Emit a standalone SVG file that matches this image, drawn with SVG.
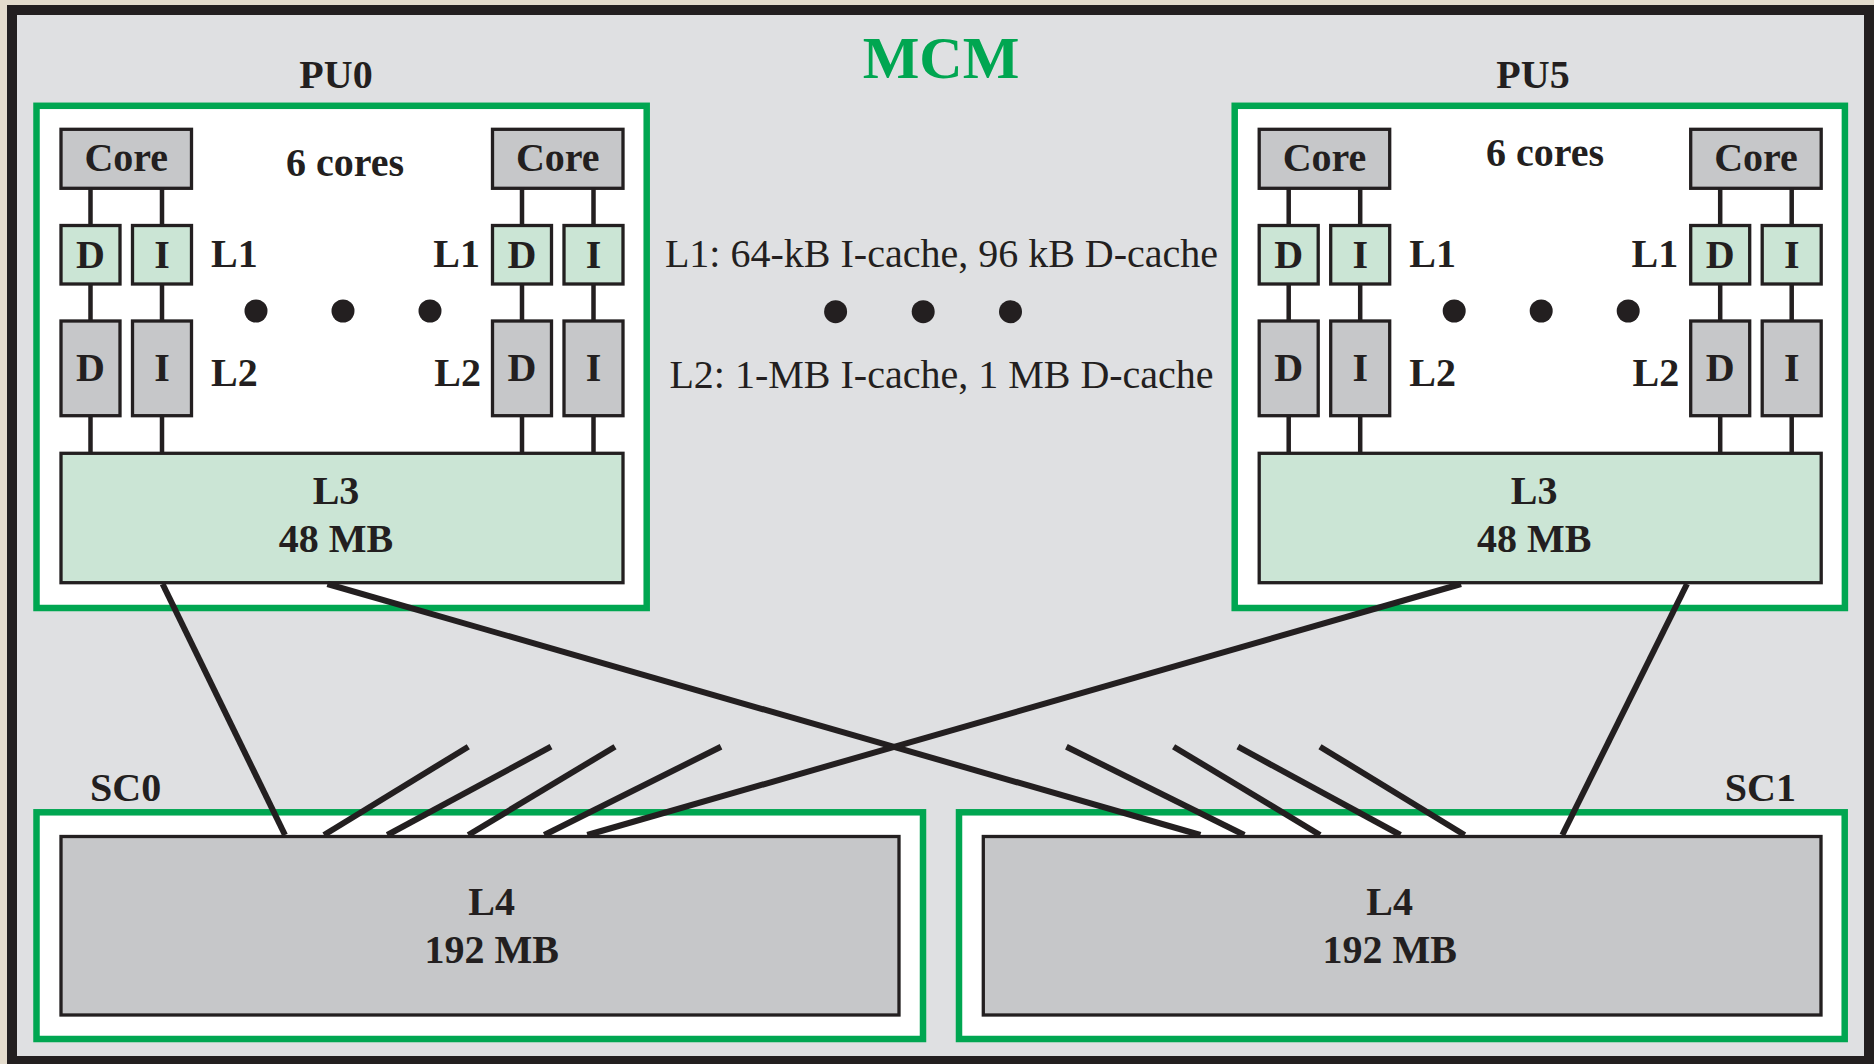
<svg xmlns="http://www.w3.org/2000/svg" width="1874" height="1064" viewBox="0 0 1874 1064">
<style>
.frame{fill:#dfe0e2;stroke:#231f20;stroke-width:10}
.cont{fill:#ffffff;stroke:#00a651;stroke-width:6.5}
.gray{fill:#c6c7c9;stroke:#231f20;stroke-width:3.3}
.lg{fill:#cbe5d5;stroke:#231f20;stroke-width:3.3}
.b{font-family:"Liberation Serif",serif;font-weight:bold;font-size:40px;fill:#231f20}
.c{text-anchor:middle}
.e{text-anchor:end}
.r{font-family:"Liberation Serif",serif;font-size:40px;fill:#231f20;text-anchor:middle}
.mcm{font-family:"Liberation Serif",serif;font-weight:bold;font-size:60px;fill:#00a651;text-anchor:middle}
.w{stroke:#231f20;stroke-width:6;fill:none}
.v{stroke:#231f20;stroke-width:4.5;fill:none}
.dot{fill:#231f20}
</style>
<defs>
<g id="pu">
  <rect class="cont" x="36.5" y="105.8" width="610.2" height="502.2"/>
  <rect class="gray" x="61" y="129.3" width="130.5" height="59"/>
  <rect class="gray" x="492.5" y="129.3" width="130.5" height="59"/>
  <rect class="lg" x="61" y="225.5" width="59" height="58.5"/>
  <rect class="lg" x="132.5" y="225.5" width="59" height="58.5"/>
  <rect class="lg" x="492.5" y="225.5" width="59" height="58.5"/>
  <rect class="lg" x="564" y="225.5" width="59" height="58.5"/>
  <rect class="gray" x="61" y="321" width="59" height="94.7"/>
  <rect class="gray" x="132.5" y="321" width="59" height="94.7"/>
  <rect class="gray" x="492.5" y="321" width="59" height="94.7"/>
  <rect class="gray" x="564" y="321" width="59" height="94.7"/>
  <rect class="lg" x="61" y="453.3" width="562" height="129.4"/>
  <path class="v" d="M90.5 188.8V225.5M162 188.8V225.5M522 188.8V225.5M593.5 188.8V225.5M90.5 284V321M162 284V321M522 284V321M593.5 284V321M90.5 415.7V453.3M162 415.7V453.3M522 415.7V453.3M593.5 415.7V453.3"/>
  <text class="b c" x="126.3" y="171">Core</text>
  <text class="b c" x="557.8" y="171">Core</text>
  <text class="b c" x="90.5" y="268">D</text>
  <text class="b c" x="162" y="268">I</text>
  <text class="b c" x="522" y="268">D</text>
  <text class="b c" x="593.5" y="268">I</text>
  <text class="b c" x="90.5" y="381">D</text>
  <text class="b c" x="162" y="381">I</text>
  <text class="b c" x="522" y="381">D</text>
  <text class="b c" x="593.5" y="381">I</text>
  <text class="b" x="211" y="267">L1</text>
  <text class="b e" x="480" y="267">L1</text>
  <text class="b" x="211" y="386">L2</text>
  <text class="b e" x="481" y="386">L2</text>
  <text class="b c" x="336" y="504">L3</text>
  <text class="b c" x="336" y="552">48 MB</text>
  <circle class="dot" cx="256" cy="311" r="11.5"/>
  <circle class="dot" cx="343" cy="311" r="11.5"/>
  <circle class="dot" cx="430" cy="311" r="11.5"/>
</g>
</defs>
<rect x="0" y="0" width="1874" height="1064" fill="#e4dccd"/>
<rect class="frame" x="12" y="10" width="1857" height="1051"/>
<g id="mcm">
  <text class="mcm" x="941" y="78">MCM</text>
  <text class="r" x="941.5" y="267">L1: 64-kB I-cache, 96 kB D-cache</text>
  <text class="r" x="941.5" y="388">L2: 1-MB I-cache, 1 MB D-cache</text>
  <circle class="dot" cx="835.6" cy="311.7" r="11.5"/>
  <circle class="dot" cx="923.2" cy="311.7" r="11.5"/>
  <circle class="dot" cx="1010.5" cy="311.7" r="11.5"/>
</g>
<g id="PU0">
  <text class="b c" x="336" y="88">PU0</text>
  <use href="#pu"/>
  <text class="b c" x="345" y="176">6 cores</text>
</g>
<g id="PU5">
  <text class="b c" x="1533" y="88">PU5</text>
  <use href="#pu" transform="translate(1198.2,0)"/>
  <text class="b c" x="1545" y="166">6 cores</text>
</g>
<g id="SC0">
  <text class="b" x="90" y="801">SC0</text>
  <rect class="cont" x="36.5" y="812.3" width="886.5" height="226.7"/>
  <rect class="gray" x="61" y="836.5" width="838" height="178.5"/>
  <text class="b c" x="491.7" y="915">L4</text>
  <text class="b c" x="491.7" y="963">192 MB</text>
</g>
<g id="SC1">
  <text class="b e" x="1796" y="801">SC1</text>
  <rect class="cont" x="959" y="812.3" width="885.7" height="226.7"/>
  <rect class="gray" x="983.3" y="836.5" width="837.7" height="178.5"/>
  <text class="b c" x="1389.6" y="915">L4</text>
  <text class="b c" x="1389.6" y="963">192 MB</text>
</g>
<g id="connectors" class="w">
  <line x1="162.6" y1="584" x2="285" y2="835"/>
  <line x1="327.4" y1="584" x2="1200.4" y2="835"/>
  <line x1="1461" y1="584" x2="587.3" y2="835"/>
  <line x1="1687" y1="584" x2="1562.3" y2="835"/>
  <line x1="468.3" y1="746.7" x2="324" y2="835"/>
  <line x1="551" y1="746.7" x2="387.3" y2="835"/>
  <line x1="615" y1="746.7" x2="468.3" y2="835"/>
  <line x1="721" y1="746.7" x2="544.3" y2="835"/>
  <line x1="1066.4" y1="746.7" x2="1244.3" y2="835"/>
  <line x1="1173.6" y1="746.7" x2="1320" y2="835"/>
  <line x1="1237.9" y1="746.7" x2="1400.4" y2="835"/>
  <line x1="1320" y1="746.7" x2="1464.6" y2="835"/>
</g>
</svg>
